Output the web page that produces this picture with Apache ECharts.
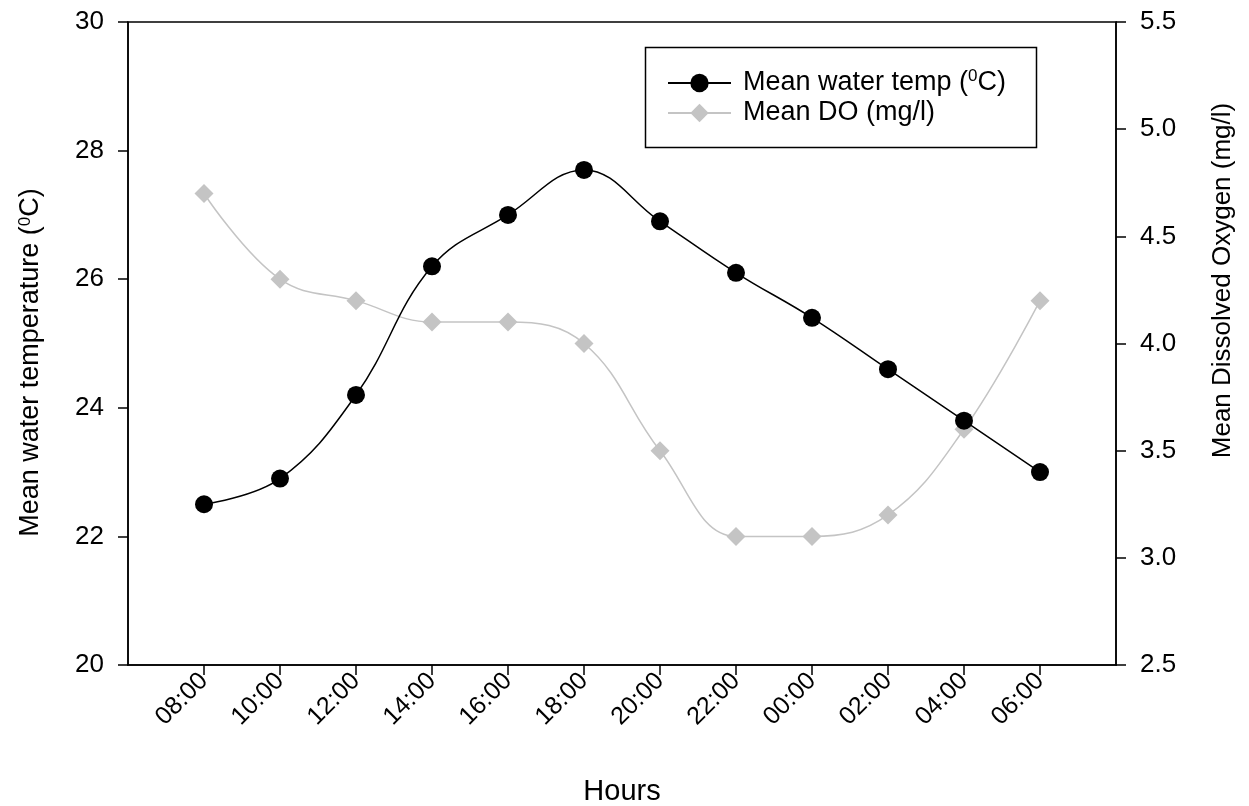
<!DOCTYPE html>
<html><head><meta charset="utf-8">
<script src="https://cdn.jsdelivr.net/npm/echarts@6/dist/echarts.min.js"></script>
<style>html,body{margin:0;padding:0;background:#fff}#c{width:1249px;height:806px}</style>
</head><body><div id="c"></div>
<script>
const hours = ['08:00','10:00','12:00','14:00','16:00','18:00','20:00','22:00','00:00','02:00','04:00','06:00'];
const waterTemp = [22.5, 22.9, 24.2, 26.2, 27.0, 27.7, 26.9, 26.1, 25.4, 24.6, 23.8, 23.0];
const meanDO = [4.7, 4.3, 4.2, 4.1, 4.1, 4.0, 3.5, 3.1, 3.1, 3.2, 3.6, 4.2];
const tempTicks = [20, 22, 24, 26, 28, 30];
const doTicks = [2.5, 3.0, 3.5, 4.0, 4.5, 5.0, 5.5];

const F = 'Liberation Sans, Arial, sans-serif';
const idx = hours.map((h, i) => i);
const chart = echarts.init(document.getElementById('c'));
chart.setOption({
  animation: false,
  backgroundColor: '#fff',
  grid: {left: 128, right: 133, top: 22, bottom: 141, show: true, borderColor: '#000', borderWidth: 1.5,
    outerBoundsMode: 'none', containLabel: false},
  legend: {
    left: 662, top: 63, orient: 'vertical', itemGap: 0, itemWidth: 63, itemHeight: 23,
    textStyle: {fontFamily: F, fontSize: 27, color: '#000', lineHeight: 30, padding: [0, 0, 0, 7],
      rich: {a: {fontFamily: F, fontSize: 27, color: '#000'}, s: {fontFamily: F, fontSize: 17, color: '#000', verticalAlign: 'top', padding: [0, 0, 10, 0]}}},
    formatter: n => n === 'temp' ? '{a|Mean water temp (}{s|0}{a|C)}' : '{a|Mean DO (mg/l)}',
    data: ['temp', 'do']
  },
  graphic: [{type: 'rect', left: 643, top: 45, shape: {width: 391, height: 100},
    style: {fill: 'none', stroke: '#000', lineWidth: 1.5}, z: 100}],
  xAxis: {
    type: 'value', min: -1, max: 12, interval: 1,
    name: 'Hours', nameLocation: 'middle', nameGap: 112,
    nameTextStyle: {fontFamily: F, fontSize: 29, color: '#000'},
    axisLine: {onZero: false, lineStyle: {color: '#000', width: 1.5}},
    axisTick: {show: true, length: 10, lineStyle: {color: '#000', width: 1.5}, customValues: idx},
    axisLabel: {rotate: 45, margin: 12, fontFamily: F, fontSize: 25, color: '#000', customValues: idx,
      formatter: v => hours[v] ?? ''},
    splitLine: {show: false}
  },
  yAxis: [{
    type: 'value', min: 20, max: 30, interval: 2, position: 'left',
    name: '{a|Mean water temperature (}{s|0}{a|C)}', nameLocation: 'middle', nameGap: 84, nameRotate: 90,
    nameTextStyle: {padding: [0, 38, 0, 0], rich: {a: {fontFamily: F, fontSize: 27, color: '#000'}, s: {fontFamily: F, fontSize: 17, color: '#000', verticalAlign: 'top', padding: [0, 0, 10, 0]}}},
    axisLine: {show: true, onZero: false, lineStyle: {color: '#000', width: 1.5}},
    axisTick: {show: true, length: 10, lineStyle: {color: '#000', width: 1.5}},
    axisLabel: {margin: 24, fontFamily: F, fontSize: 26, color: '#000', formatter: v => tempTicks.includes(v) ? String(v) : ''},
    splitLine: {show: false}
  }, {
    type: 'value', min: 2.5, max: 5.5, interval: 0.5, position: 'right',
    name: 'Mean Dissolved Oxygen (mg/l)', nameLocation: 'middle', nameGap: 94, nameRotate: 90,
    nameTextStyle: {fontFamily: F, fontSize: 26, color: '#000', padding: [0, 0, 0, 126]},
    axisLine: {show: true, onZero: false, lineStyle: {color: '#000', width: 1.5}},
    axisTick: {show: true, length: 10, lineStyle: {color: '#000', width: 1.5}},
    axisLabel: {margin: 24, fontFamily: F, fontSize: 26, color: '#000', formatter: v => v.toFixed(1)},
    splitLine: {show: false}
  }],
  series: [{
    name: 'do', type: 'line', yAxisIndex: 1, smooth: 0.4,
    data: meanDO.map((v, i) => [i, v]),
    symbol: 'diamond', symbolSize: 19,
    lineStyle: {color: '#c4c4c4', width: 1.5},
    itemStyle: {color: '#c4c4c4'}, z: 2
  }, {
    name: 'temp', type: 'line', yAxisIndex: 0, smooth: 0.4,
    data: waterTemp.map((v, i) => [i, v]),
    symbol: 'circle', symbolSize: 18,
    lineStyle: {color: '#000', width: 1.5},
    itemStyle: {color: '#000'}, z: 3
  }]
});
</script></body></html>
